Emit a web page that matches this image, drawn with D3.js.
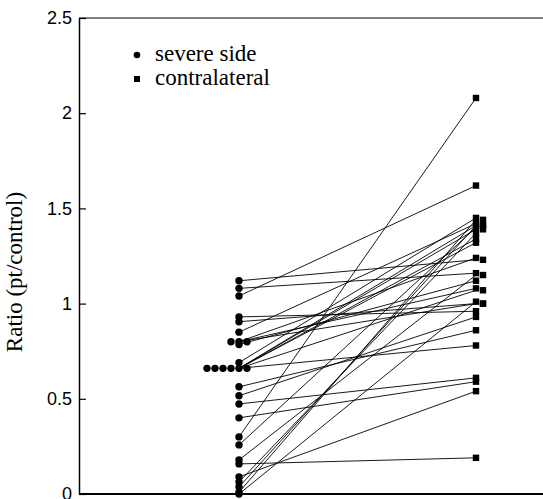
<!DOCTYPE html>
<html>
<head>
<meta charset="utf-8">
<script src="https://cdn.jsdelivr.net/npm/d3@7"></script>
<style>
  body { margin: 0; background: #fff; }
</style>
</head>
<body>
<div id="chart"></div>
<script>
// values, one entry per patient (severe side -> contralateral)
var severe = [1.12, 1.08, 1.04, 0.93, 0.905, 0.85, 0.80, 0.80, 0.80, 0.785, 0.69,
  0.66, 0.66, 0.66, 0.66, 0.66, 0.66, 0.563, 0.516, 0.473, 0.40, 0.30, 0.258,
  0.179, 0.158, 0.09, 0.063, 0.037, 0.01, 0.0];
var contralateral = [1.23, 1.16, 1.62, 0.96, 1.00, 1.42, 1.24, 1.08, 1.00, 1.12, 1.45,
  0.78, 1.34, 1.41, 1.07, 1.32, 1.39, 0.86, 0.93, 0.61, 0.59, 2.08, 1.40,
  1.15, 0.19, 0.54, 1.37, 1.41, 1.44, 1.01];
var sides = ["severe side", "contralateral"];
var yTicks = [0, 0.5, 1, 1.5, 2, 2.5];

var svgWidth = 543;
var svgHeight = 499;
var margin = { top: 18, right: 0, bottom: 5, left: 79 };
var height = svgHeight - margin.top - margin.bottom;
var width = svgWidth - margin.left - margin.right;

var svg = d3.select("#chart")
  .append("svg")
  .attr("width", svgWidth)
  .attr("height", svgHeight);

var chartGroup = svg.append("g")
  .attr("transform", `translate(${margin.left}, ${margin.top})`);

var yScale = d3.scaleLinear().domain([0, 2.5]).range([height, 0]);
var xScale = d3.scalePoint().domain(sides).range([160, 397]);

// spread repeated severe values sideways like the original dot plot
var seen = {};
var dotOffsets = [0, -1, 1, -2, -3, -4, -5];
var pairs = severe.map(function(s, i) {
  var k = seen[s] || 0;
  seen[s] = k + 1;
  return { s: s, c: contralateral[i], dx: dotOffsets[k] * 8, cx: 0 };
});

// squares that would sit on top of another move a bit right
var placed = [];
pairs.slice().sort((a, b) => b.c - a.c).forEach(function(p) {
  var clash = placed.some(v => Math.abs(v - p.c) < 0.015);
  if (clash) { p.cx = 7; } else { placed.push(p.c); }
});

// frame
chartGroup.append("line")
  .attr("x1", 0).attr("x2", width)
  .attr("y1", 0).attr("y2", 0)
  .attr("stroke", "#000").attr("stroke-width", 1.2);
chartGroup.append("line")
  .attr("x1", 0).attr("x2", width)
  .attr("y1", height).attr("y2", height)
  .attr("stroke", "#000").attr("stroke-width", 2);

var leftAxis = d3.axisLeft(yScale)
  .tickValues(yTicks)
  .tickSizeInner(-7)
  .tickSizeOuter(0)
  .tickPadding(7)
  .tickFormat(d3.format("~g"));

var yAxis = chartGroup.append("g").call(leftAxis);
yAxis.select(".domain").attr("stroke-width", 1.5);
yAxis.selectAll(".tick line").attr("stroke-width", 1.2);
yAxis.selectAll("text")
  .attr("font-family", "Liberation Sans, Arial, sans-serif")
  .attr("font-size", "18px")
  .attr("fill", "#000");

// connecting lines
chartGroup.selectAll(".pair")
  .data(pairs)
  .enter()
  .append("line")
  .attr("class", "pair")
  .attr("x1", d => xScale("severe side"))
  .attr("y1", d => yScale(d.s))
  .attr("x2", d => xScale("contralateral"))
  .attr("y2", d => yScale(d.c))
  .attr("stroke", "#000")
  .attr("stroke-width", 0.9);

chartGroup.selectAll(".sev")
  .data(pairs)
  .enter()
  .append("circle")
  .attr("class", "sev")
  .attr("cx", d => xScale("severe side") + d.dx)
  .attr("cy", d => yScale(d.s))
  .attr("r", 3.7)
  .attr("fill", "#000");

chartGroup.selectAll(".con")
  .data(pairs)
  .enter()
  .append("rect")
  .attr("class", "con")
  .attr("x", d => xScale("contralateral") + d.cx - 3.2)
  .attr("y", d => yScale(d.c) - 3.2)
  .attr("width", 6.4)
  .attr("height", 6.4)
  .attr("fill", "#000");

// legend
var legend = svg.append("g").attr("transform", "translate(137, 55)");
legend.append("circle").attr("cx", 0).attr("cy", 0).attr("r", 3.3).attr("fill", "#000");
legend.append("rect").attr("x", -3).attr("y", 21).attr("width", 6).attr("height", 6).attr("fill", "#000");
legend.selectAll("text")
  .data(sides)
  .enter()
  .append("text")
  .attr("x", 18)
  .attr("y", (d, i) => 6 + i * 24)
  .attr("font-family", "Liberation Serif, Times New Roman, serif")
  .attr("font-size", "23px")
  .text(d => d);

// y label
svg.append("text")
  .attr("transform", "translate(22, 272) rotate(-90)")
  .attr("text-anchor", "middle")
  .attr("font-family", "Liberation Serif, Times New Roman, serif")
  .attr("font-size", "23px")
  .text("Ratio (pt/control)");
</script>
</body>
</html>
